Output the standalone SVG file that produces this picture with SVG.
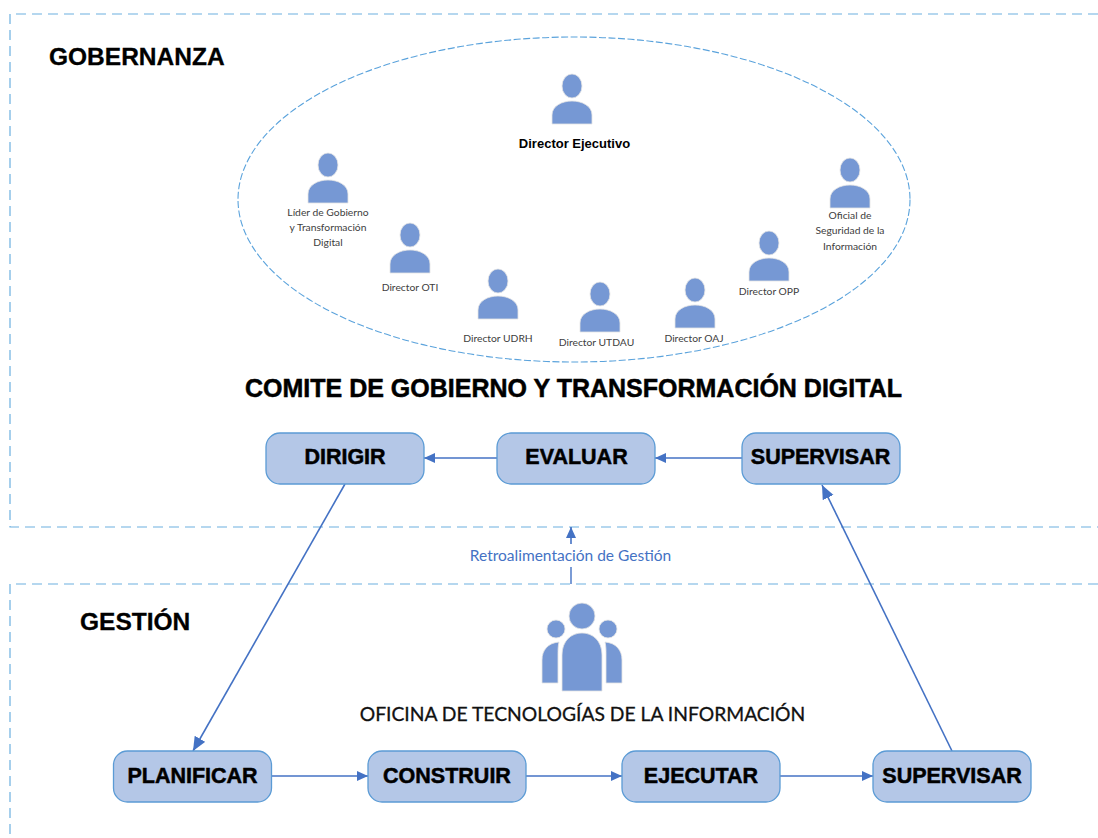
<svg xmlns="http://www.w3.org/2000/svg" width="1098" height="838" viewBox="0 0 1098 838">
<style>
.dash{fill:none;stroke:#6cb0e0;stroke-width:1.2;stroke-dasharray:10 6}
.oval{fill:none;stroke:#5ba3dc;stroke-width:1.1;stroke-dasharray:7 2.500}
.box{fill:#b4c7e7;stroke:#5b9bd5;stroke-width:1.3}
.ic{fill:#7698d4;stroke:#e4e4e4;stroke-width:.8}
.con{fill:none;stroke:#4472c4;stroke-width:1.6;marker-end:url(#arr)}
.dia{fill:none;stroke:#4472c4;stroke-width:1.6;marker-end:url(#arrb)}
.lbl{font-family:"Liberation Sans",Arial,sans-serif;font-weight:700;fill:#000;text-anchor:middle}
.nl{font-size:21.500px;stroke:#000;stroke-width:.5}
.sm{font-family:Lato,"Noto Sans",sans-serif;font-size:10.300px;fill:#404040;text-anchor:middle}
.h{font-family:"Liberation Sans",Arial,sans-serif;font-weight:700;font-size:24.500px;fill:#000;stroke:#000;stroke-width:.3}
</style>
<defs>
<marker id="arr" markerWidth="13" markerHeight="11" refX="11" refY="5" orient="auto" markerUnits="userSpaceOnUse"><path d="M0,0L11,5L0,10Z" fill="#4472c4"/></marker>
<marker id="arrb" markerWidth="16" markerHeight="14" refX="14" refY="6" orient="auto" markerUnits="userSpaceOnUse"><path d="M0,0L14,6L0,12Z" fill="#4472c4"/></marker>
<g id="person"><ellipse cx="0" cy="0" rx="10" ry="12" class="ic"/><path class="ic" d="M-20,38V29C-20,20-10,15 0,15C10,15 20,20 20,29V38Z"/></g>
</defs>
<rect width="1098" height="838" fill="#fff"/>
<g id="zones">
<path class="dash" d="M1098,14H10V527H1098"/>
<path class="dash" d="M1098,584H10V838"/>
<ellipse class="oval" cx="574" cy="199.500" rx="336" ry="162.500"/>
</g>
<text class="h" x="49" y="65">GOBERNANZA</text>
<text class="h" x="80" y="630">GESTIÓN</text>
<g id="connectors">
<path class="con" d="M497,458H424"/>
<path class="con" d="M742,458H655"/>
<path class="dia" d="M345,484L193,751"/>
<path class="dia" d="M952,751L822,485"/>
<path class="con" d="M271,776H368"/>
<path class="con" d="M526,776H622"/>
<path class="con" d="M780,776H873"/>
<path class="con" d="M571,544V527"/>
<path d="M571,584V567" fill="none" stroke="#4472c4" stroke-width="1.400"/>
</g>
<g id="p-ejecutivo"><use href="#person" x="572" y="86"/><text class="lbl" x="574.500" y="148" font-size="13">Director Ejecutivo</text></g>
<g id="p-lider"><use href="#person" x="328" y="165"/><text class="sm" x="328" y="216">Líder de Gobierno</text><text class="sm" x="328" y="231">y Transformación</text><text class="sm" x="328" y="246">Digital</text></g>
<g id="p-oti"><use href="#person" x="410" y="235"/><text class="sm" x="410" y="291">Director OTI</text></g>
<g id="p-udrh"><use href="#person" x="498" y="281"/><text class="sm" x="498" y="342">Director UDRH</text></g>
<g id="p-utdau"><use href="#person" x="600" y="294"/><text class="sm" x="596.500" y="346">Director UTDAU</text></g>
<g id="p-oaj"><use href="#person" x="695" y="290"/><text class="sm" x="694" y="342">Director OAJ</text></g>
<g id="p-opp"><use href="#person" x="769" y="243"/><text class="sm" x="769" y="295">Director OPP</text></g>
<g id="p-oficial"><use href="#person" x="850" y="170"/><text class="sm" x="850" y="219">Oficial de</text><text class="sm" x="850" y="234">Seguridad de la</text><text class="sm" x="850" y="250">Información</text></g>
<text class="lbl" x="573.500" y="397" font-size="25" stroke="#000" stroke-width=".5">COMITE DE GOBIERNO Y TRANSFORMACIÓN DIGITAL</text>
<g id="n-dirigir"><rect class="box" x="266" y="433" width="158" height="51" rx="14"/><text class="lbl nl" x="345" y="464">DIRIGIR</text></g>
<g id="n-evaluar"><rect class="box" x="497" y="433" width="158" height="51" rx="14"/><text class="lbl nl" x="576.500" y="464">EVALUAR</text></g>
<g id="n-supervisar1"><rect class="box" x="742" y="433" width="158" height="51" rx="14"/><text class="lbl nl" x="820.500" y="464">SUPERVISAR</text></g>
<text x="570.500" y="561" font-family="Lato,Noto Sans,sans-serif" font-size="15.500" fill="#4472c4" text-anchor="middle">Retroalimentación de Gestión</text>
<g id="i-oficina">
<circle class="ic" cx="582" cy="616" r="13"/><circle class="ic" cx="556" cy="629" r="9"/><circle class="ic" cx="608" cy="629" r="9"/>
<path class="ic" d="M562,691V655C562,641 571,633 582,633C593,633 602,641 602,655V691Z"/>
<path class="ic" d="M559,642C548,643 542,650 542,660V683H558V655C558,650 558,646 559,642Z"/>
<path class="ic" d="M605,642C616,643 622,650 622,660V683H606V655C606,650 606,646 605,642Z"/>
</g>
<text x="582.500" y="721" font-family="Lato,Noto Sans,sans-serif" font-size="19.300" fill="#111" stroke="#111" stroke-width=".3" text-anchor="middle">OFICINA DE TECNOLOGÍAS DE LA INFORMACIÓN</text>
<g id="n-planificar"><rect class="box" x="113.500" y="751" width="158" height="51" rx="14"/><text class="lbl nl" x="192.500" y="783">PLANIFICAR</text></g>
<g id="n-construir"><rect class="box" x="368" y="751" width="158" height="51" rx="14"/><text class="lbl nl" x="447" y="783">CONSTRUIR</text></g>
<g id="n-ejecutar"><rect class="box" x="622" y="751" width="158" height="51" rx="14"/><text class="lbl nl" x="701" y="783">EJECUTAR</text></g>
<g id="n-supervisar2"><rect class="box" x="873" y="751" width="158" height="51" rx="14"/><text class="lbl nl" x="952" y="783">SUPERVISAR</text></g>
</svg>
